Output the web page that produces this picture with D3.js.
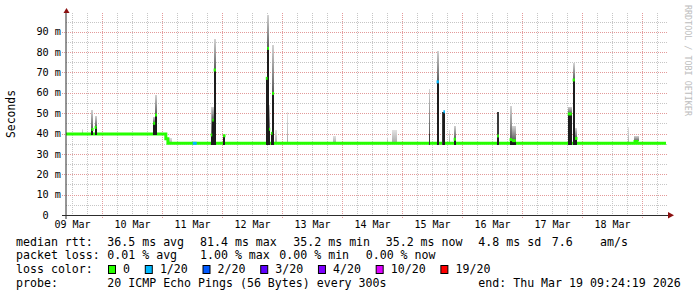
<!DOCTYPE html>
<html>
<head>
<meta charset="utf-8">
<script src="https://cdn.jsdelivr.net/npm/d3@7"></script>
<style>
  html, body { margin: 0; padding: 0; background: #fff; }
  svg { display: block; }
  text { font-family: "DejaVu Sans Mono", monospace; white-space: pre; }
</style>
</head>
<body>
<svg width="697" height="297"></svg>
<script>
// ---- data ----
const startTime = '2026-03-09T09:24:19';
const endTime = '2026-03-19T09:24:19';

// median rtt baseline, change points [time, ms]
const baseline = [
  ['2026-03-09T09:24', 39.8],
  ['2026-03-11T01:20', 37.5],
  ['2026-03-11T02:10', 35.2],
  ['2026-03-19T09:24', 35.2]
];

// periods where the baseline median had loss [from, to, loss level]
const lossPeriods = [
  ['2026-03-11T12:06', '2026-03-11T13:42', 1]
];

// spikes: [centre time, duration h, median ms, dark smoke top ms, smoke top ms, loss level]
const spikes = [
  ['2026-03-09T15:55', 0.4, null, null, 42.2, 0],
  ['2026-03-09T20:00', 0.8, 42.0, null, 51.5, 0],
  ['2026-03-09T21:15', 0.8, 43.0, null, 48.6, 0],
  ['2026-03-10T20:40', 0.8, 45.0, null, 48.3, 0],
  ['2026-03-10T21:25', 0.8, 49.1, null, 58.9, 0],
  ['2026-03-11T03:00', 1.4, null, null, 37.9, 0],
  ['2026-03-11T19:35', 0.6, 39.3, null, 53.2, 0],
  ['2026-03-11T20:12', 0.6, 46.6, null, 53.2, 0],
  ['2026-03-11T20:55', 0.9, 71.2, null, 86.2, 0],
  ['2026-03-12T00:42', 1.0, 38.9, null, 38.9, 0],
  ['2026-03-12T17:40', 0.7, 67.1, null, 67.1, 0],
  ['2026-03-12T18:15', 0.7, 81.8, null, 98.2, 0],
  ['2026-03-12T18:50', 0.5, 42.1, null, 54.0, 0],
  ['2026-03-12T19:40', 0.6, 40.1, null, 40.1, 0],
  ['2026-03-12T20:15', 0.8, 59.7, null, 83.5, 0],
  ['2026-03-12T21:20', 0.8, null, null, 41.7, 0],
  ['2026-03-13T02:00', 0.4, null, null, 50.7, 0],
  ['2026-03-13T20:50', 1.4, null, null, 38.8, 0],
  ['2026-03-14T18:05', 0.6, null, null, 38.4, 0],
  ['2026-03-14T20:50', 2.0, null, null, 41.7, 0],
  ['2026-03-15T10:42', 0.5, null, 40.0, 61.9, 0],
  ['2026-03-15T14:05', 0.9, 65.4, null, 80.7, 1],
  ['2026-03-15T15:55', 0.6, null, 50.7, 50.7, 0],
  ['2026-03-15T16:40', 0.6, 50.7, null, 50.7, 1],
  ['2026-03-15T18:40', 0.5, null, null, 41.7, 0],
  ['2026-03-15T20:55', 0.9, 37.2, null, 43.8, 0],
  ['2026-03-16T14:12', 0.7, 38.8, 50.7, 50.7, 0],
  ['2026-03-16T19:20', 1.0, 37.0, null, 53.5, 0],
  ['2026-03-16T20:35', 1.5, 36.5, null, 43.7, 0],
  ['2026-03-17T18:55', 1.6, 49.6, null, 53.2, 0],
  ['2026-03-17T20:30', 0.9, 66.3, null, 74.5, 0],
  ['2026-03-17T21:30', 1.0, 37.6, null, 42.6, 0],
  ['2026-03-18T18:18', 0.5, null, null, 43.1, 0],
  ['2026-03-18T21:25', 2.0, 36.1, null, 38.8, 0]
];

const yTicks = [0, 10, 20, 30, 40, 50, 60, 70, 80, 90];
const yMinor = [5, 15, 25, 35, 45, 55, 65, 75, 85, 95];

const rttStats = [36.5, 81.4, 35.2, 35.2, 4.8];
const rttNames = ['avg', 'max', 'min', 'now', 'sd'];
const rttAmS = 7.6;
const lossStats = [0.01, 1.00, 0.00, 0.00];
const lossNames = ['avg', 'max', 'min', 'now'];
const lossLevels = ['0', '1/20', '2/20', '3/20', '4/20', '10/20', '19/20'];
const probeText = '20 ICMP Echo Pings (56 Bytes) every 300s';
const endText = 'Thu Mar 19 09:24:19 2026';

// ---- layout ----
const lossColors = ['#26ff00', '#00b8ff', '#0059ff', '#5e00ff', '#7e00ff', '#dd00ff', '#ff0000'];
const plot = {left: 66, right: 666, top: 13, bottom: 215};
const rowY = [245.5, 259.2, 273, 286.7];
const rttX = [107.3, 200, 293.3, 385.7, 478.3];
const lossX = [107.3, 200, 279.3, 365.7];

const svg = d3.select('svg');

const x = d3.scaleTime()
    .domain([new Date(startTime), new Date(endTime)])
    .range([plot.left, plot.right]);

const y = d3.scaleLinear().domain([0, 90]).range([plot.bottom, 31.7]);

const crisp = v => Math.round(v) + 0.5;

const baseRows = baseline.map(([t, v]) => ({t: new Date(t), v}));
const baseBisect = d3.bisector(d => d.t).right;
const baselineAt = t => baseRows[Math.max(0, baseBisect(baseRows, t) - 1)].v;

const defs = svg.append('defs');
const grad = (id, top, bottom) => {
  const g = defs.append('linearGradient').attr('id', id)
      .attr('x1', 0).attr('y1', 0).attr('x2', 0).attr('y2', 1);
  g.append('stop').attr('offset', '0%').attr('stop-color', top);
  g.append('stop').attr('offset', '100%').attr('stop-color', bottom);
};
grad('smokeDark', '#d2d2d2', '#5a5a5a');
grad('smokeLight', '#e2e2e2', '#a8a8a8');

// ---- grid ----
const grid = svg.append('g')
    .attr('shape-rendering', 'crispEdges')
    .attr('stroke-dasharray', '1,1')
    .attr('fill', 'none');

const days = d3.timeDay.range(x.domain()[0], x.domain()[1]);
const sixHours = d3.timeHour.every(6).range(x.domain()[0], x.domain()[1])
    .filter(d => d.getHours() !== 0);

grid.selectAll('line.hmin')
    .data(yMinor)
    .join('line')
    .attr('stroke', '#c6c6c6')
    .attr('x1', plot.left).attr('x2', plot.right + 1)
    .attr('y1', d => crisp(y(d))).attr('y2', d => crisp(y(d)));

grid.selectAll('line.vmin')
    .data(sixHours)
    .join('line')
    .attr('stroke', '#c6c6c6')
    .attr('x1', d => crisp(x(d))).attr('x2', d => crisp(x(d)))
    .attr('y1', plot.top).attr('y2', plot.bottom);

grid.selectAll('line.hmaj')
    .data(yTicks.slice(1))
    .join('line')
    .attr('stroke', '#e39a9a')
    .attr('x1', plot.left - 4).attr('x2', plot.right + 1)
    .attr('y1', d => crisp(y(d))).attr('y2', d => crisp(y(d)));

grid.selectAll('line.vmaj')
    .data(days)
    .join('line')
    .attr('stroke', '#e39a9a')
    .attr('x1', d => crisp(x(d))).attr('x2', d => crisp(x(d)))
    .attr('y1', plot.top).attr('y2', plot.bottom + 3);

// ---- smoke and median ----
const spikeRows = spikes.map(([t, w, med, dark, top, loss]) => {
  const c = new Date(t);
  const half = w * 1800e3;
  return {
    x0: x(new Date(+c - half)),
    x1: x(new Date(+c + half)),
    base: baselineAt(c), med, dark, top, loss
  };
});
const colW = d => Math.max(1, d.x1 - d.x0);
const smokeFrom = d => Math.max(d.base, d.med || 0, d.dark || 0);

svg.append('g')
    .attr('shape-rendering', 'crispEdges')
    .selectAll('rect')
    .data(spikeRows.filter(d => d.top > smokeFrom(d) + 0.3))
    .join('rect')
    .attr('x', d => d.x0)
    .attr('width', colW)
    .attr('y', d => y(d.top))
    .attr('height', d => y(smokeFrom(d)) - y(d.top))
    .attr('fill', d => (d.med || d.dark) ? 'url(#smokeDark)' : 'url(#smokeLight)');

const medianLine = d3.line()
    .x(d => x(d.t))
    .y(d => y(d.v))
    .curve(d3.curveStepAfter);

svg.append('path')
    .datum(baseRows)
    .attr('d', medianLine)
    .attr('fill', 'none')
    .attr('stroke', lossColors[0])
    .attr('stroke-width', 3);

svg.append('g')
    .selectAll('rect')
    .data(lossPeriods)
    .join('rect')
    .attr('x', d => x(new Date(d[0])))
    .attr('width', d => x(new Date(d[1])) - x(new Date(d[0])))
    .attr('y', d => y(baselineAt(new Date(d[0]))) - 1.5)
    .attr('height', 3)
    .attr('fill', d => lossColors[d[2]]);

// dark grey smoke
svg.append('g')
    .attr('shape-rendering', 'crispEdges')
    .selectAll('rect')
    .data(spikeRows.filter(d => d.dark))
    .join('rect')
    .attr('x', d => d.x0)
    .attr('width', colW)
    .attr('y', d => y(d.dark))
    .attr('height', d => y(d.base) + 1.5 - y(d.dark))
    .attr('fill', '#3a3a3a');

// black inner smoke up to the median
svg.append('g')
    .attr('shape-rendering', 'crispEdges')
    .selectAll('rect')
    .data(spikeRows.filter(d => d.med && d.med - d.base > 1.2))
    .join('rect')
    .attr('x', d => d.x0)
    .attr('width', colW)
    .attr('y', d => y(d.med))
    .attr('height', d => y(d.base) + 1.5 - y(d.med))
    .attr('fill', '#1c1c1c');

svg.append('g')
    .selectAll('rect')
    .data(spikeRows.filter(d => d.med))
    .join('rect')
    .attr('x', d => d.x0)
    .attr('width', colW)
    .attr('y', d => y(d.med) - 1.5)
    .attr('height', 3)
    .attr('fill', d => lossColors[d.loss]);

// ---- axes ----
const axes = svg.append('g').attr('stroke', '#2c2c2c').attr('fill', 'none');
axes.append('line')
    .attr('x1', plot.left).attr('x2', plot.left)
    .attr('y1', plot.top - 1).attr('y2', plot.bottom + 4);
axes.append('line')
    .attr('x1', plot.left - 4).attr('x2', plot.right + 3)
    .attr('y1', plot.bottom + 0.5).attr('y2', plot.bottom + 0.5);

svg.append('path')
    .attr('d', `M63.5,${plot.top}L69.5,${plot.top}L66.5,${plot.top - 5}Z`)
    .attr('fill', '#8b1010');
svg.append('path')
    .attr('d', `M${plot.right + 2},212L${plot.right + 2},218.5L${plot.right + 8},215.25Z`)
    .attr('fill', '#8b1010');

svg.append('g')
    .attr('font-size', 10.2)
    .attr('text-anchor', 'end')
    .selectAll('text')
    .data(yTicks)
    .join('text')
    .attr('x', 61)
    .attr('y', d => y(d) + 3.6)
    .text(d => d === 0 ? '0  ' : `${d} m`);

svg.append('g')
    .attr('font-size', 10)
    .attr('text-anchor', 'middle')
    .selectAll('text')
    .data(days.concat([d3.timeDay.floor(x.domain()[0])])
        .map(d => d3.timeHour.offset(d, 12))
        .filter(d => d > x.domain()[0] && d < x.domain()[1]))
    .join('text')
    .attr('x', d => x(d))
    .attr('y', 228.4)
    .text(d3.timeFormat('%d %b'));

svg.append('text')
    .attr('transform', 'translate(15.3,114) rotate(-90)')
    .attr('text-anchor', 'middle')
    .attr('font-size', 11.4)
    .text('Seconds');

svg.append('text')
    .attr('transform', 'translate(684.5,5) rotate(90)')
    .attr('font-size', 8.4)
    .attr('fill', '#bdbdbd')
    .text('RRDTOOL / TOBI OETIKER');

// ---- legend ----
const legend = svg.append('g').attr('font-size', 11.6).attr('fill', '#000');

legend.selectAll('text.head')
    .data(['median rtt:', 'packet loss:', 'loss color:', 'probe:'])
    .join('text')
    .attr('x', 16)
    .attr('y', (d, i) => rowY[i])
    .text(d => d);

legend.selectAll('text.rtt')
    .data(rttStats)
    .join('text')
    .attr('x', (d, i) => rttX[i])
    .attr('y', rowY[0])
    .text((d, i) => `${d.toFixed(1)} ms ${rttNames[i]}`);
legend.append('text').attr('x', 551.7).attr('y', rowY[0]).text(rttAmS.toFixed(1));
legend.append('text').attr('x', 600).attr('y', rowY[0]).text('am/s');

legend.selectAll('text.loss')
    .data(lossStats)
    .join('text')
    .attr('x', (d, i) => lossX[i])
    .attr('y', rowY[1])
    .text((d, i) => `${d.toFixed(2)} % ${lossNames[i]}`);

let bx = 108.5;
lossLevels.forEach((lvl, i) => {
  legend.append('rect')
      .attr('x', bx).attr('y', 265.5)
      .attr('width', 7).attr('height', 8)
      .attr('fill', lossColors[i])
      .attr('stroke', '#000');
  const t = legend.append('text')
      .attr('x', bx + 14.6)
      .attr('y', rowY[2])
      .text(lvl);
  bx += 14.6 + t.node().getComputedTextLength() + 15.2;
});

legend.append('text').attr('x', 107.3).attr('y', rowY[3]).text(probeText);
legend.append('text').attr('x', 478.3).attr('y', rowY[3]).text(`end: ${endText}`);
</script>
</body>
</html>
